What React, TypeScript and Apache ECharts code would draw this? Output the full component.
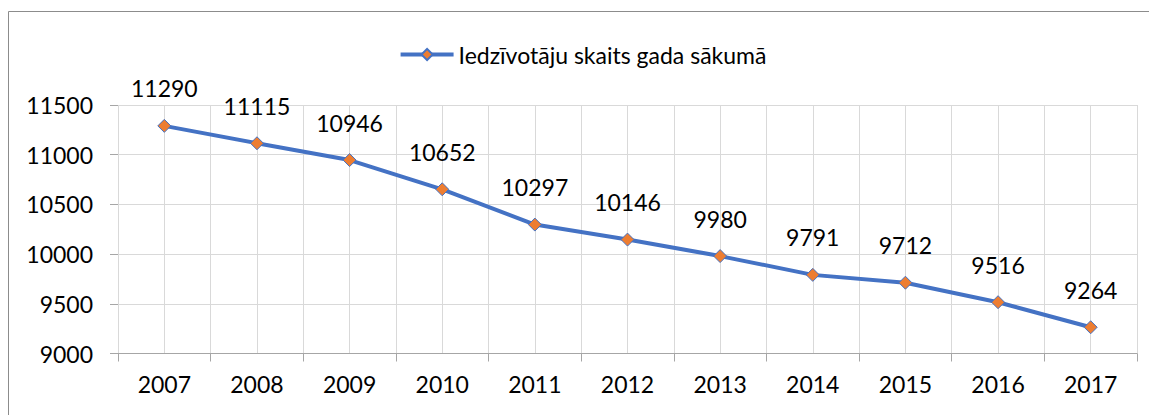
import React, { useEffect, useRef } from "react";
import * as echarts from "echarts";

const years = ["2007", "2008", "2009", "2010", "2011", "2012", "2013", "2014", "2015", "2016", "2017"];
const residents = [11290, 11115, 10946, 10652, 10297, 10146, 9980, 9791, 9712, 9516, 9264];
const seriesName = "Iedzīvotāju skaits gada sākumā";
const yMin = 9000;
const yMax = 11500;
const yStep = 500;

const FONT = "Lato, 'Open Sans', sans-serif";
const FS = 23;

export default function App() {
  const ref = useRef<HTMLDivElement>(null);
  useEffect(() => {
    if (!ref.current) return;
    const chart = echarts.init(ref.current, null, { renderer: "svg" });
    chart.setOption({
      animation: false,
      backgroundColor: "#ffffff",
      textStyle: { fontFamily: FONT },
      graphic: [
        {
          type: "rect",
          silent: true,
          z: 100,
          shape: { x: 0.5, y: 3.5, width: 1300, height: 600 },
          style: { fill: "none", stroke: "#8c8c8c", lineWidth: 1 },
        },
      ],
      legend: {
        top: 30,
        left: "center",
        itemWidth: 53,
        itemHeight: 14,
        itemGap: 10,
        lineStyle: { width: 4 },
        textStyle: { fontSize: FS, color: "#000", fontFamily: FONT },
        data: [seriesName],
      },
      grid: { left: 110, right: 20, top: 97, bottom: 61.5, containLabel: false },
      xAxis: [
        {
          type: "category",
          data: years,
          boundaryGap: true,
          axisLine: { show: true, lineStyle: { color: "#a6a6a6", width: 1 } },
          axisTick: { show: true, length: 8, lineStyle: { color: "#a6a6a6" } },
          axisLabel: { fontSize: FS, color: "#000", margin: 19, fontFamily: FONT },
          splitLine: { show: false },
        },
        {
          type: "value",
          min: 0,
          max: 22,
          interval: 1,
          show: true,
          position: "bottom",
          axisLine: { show: false },
          axisTick: { show: false },
          axisLabel: { show: false },
          splitLine: { show: true, lineStyle: { color: "#d9d9d9", width: 1 } },
        },
      ],
      yAxis: {
        type: "value",
        min: yMin,
        max: yMax,
        interval: yStep,
        axisLine: { show: false },
        axisTick: { show: true, length: 8, lineStyle: { color: "#a6a6a6" } },
        axisLabel: {
          fontSize: FS,
          color: "#000",
          margin: 25,
          fontFamily: FONT,
          formatter: (v: number) => String(v),
        },
        splitLine: { show: true, lineStyle: { color: "#d9d9d9", width: 1 } },
      },
      series: [
        {
          name: seriesName,
          type: "line",
          xAxisIndex: 0,
          data: residents,
          symbol: "diamond",
          symbolSize: 13,
          lineStyle: { color: "#4472c4", width: 4 },
          itemStyle: { color: "#ed7d31", borderColor: "#4472c4", borderWidth: 1 },
          label: {
            show: true,
            position: "top",
            distance: 19,
            fontSize: FS,
            color: "#000",
            fontFamily: FONT,
          },
          z: 5,
        },
      ],
    });
    return () => chart.dispose();
  }, []);
  return <div ref={ref} style={{ width: 1149, height: 407 }} />;
}
